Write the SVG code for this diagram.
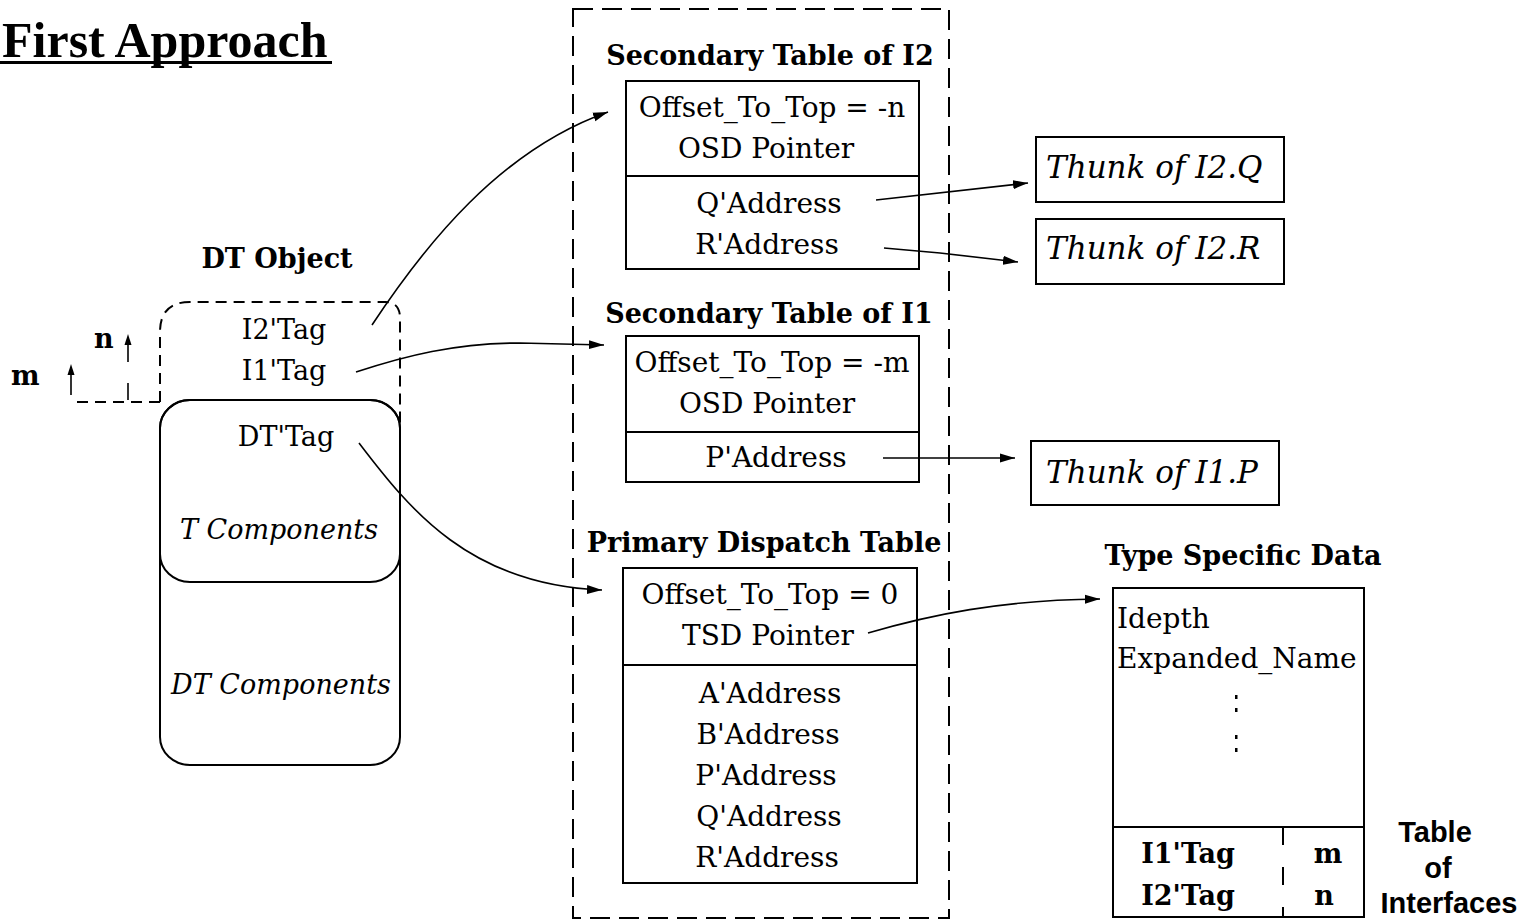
<svg xmlns="http://www.w3.org/2000/svg" width="1529" height="921" viewBox="0 0 1529 921">
  <defs>
    <marker id="arrow" markerUnits="userSpaceOnUse" markerWidth="16" markerHeight="10" refX="15" refY="5" orient="auto">
      <path d="M0,0.5 L15,5 L0,9.5 z" fill="#000"/>
    </marker>
    <style>
      .box { fill: none; stroke: #000; stroke-width: 2; }
      .dash { fill: none; stroke: #000; stroke-width: 2; stroke-dasharray: 11 7; }
      .bigdash { fill: none; stroke: #000; stroke-width: 2; stroke-dasharray: 20 9; }
      .link { fill: none; stroke: #000; stroke-width: 1.6; marker-end: url(#arrow); }
      .t { font-family: "DejaVu Serif", "Liberation Serif", serif; font-size: 28px; fill: #000; }
      .obj { font-size: 27px; }
      .it { font-family: "DejaVu Serif", "Liberation Serif", serif; font-style: italic; font-size: 27px; fill: #000; }
      .thunk { font-size: 31px; }
      .h { font-family: "DejaVu Serif", "Liberation Serif", serif; font-weight: bold; font-size: 27px; fill: #000; }
      .sans { font-family: "Liberation Sans", Arial, sans-serif; font-weight: bold; font-size: 29px; fill: #000; }
      .mid { text-anchor: middle; }
    </style>
  </defs>
  <rect width="1529" height="921" fill="#fff"/>

  <!-- heading -->
  <g id="title">
    <text x="2" y="57" font-family="'Liberation Serif', 'Times New Roman', serif" font-weight="bold" font-size="50">First Approach</text>
    <rect x="0" y="61" width="332" height="3" fill="#000"/>
  </g>

  <!-- object layout -->
  <g id="dt-object">
    <text class="h mid" x="277" y="268">DT Object</text>
    <path class="dash" d="M160,402 L160,332 Q160,302 190,302 L385,302 Q400,302 400,318 L400,430"/>
    <rect class="box" x="160" y="400" width="240" height="365" rx="30" ry="28"/>
    <rect class="box" x="160" y="400" width="240" height="182" rx="30" ry="28"/>
    <text class="t obj mid" x="284" y="339">I2'Tag</text>
    <text class="t obj mid" x="284" y="380">I1'Tag</text>
    <text class="t obj mid" x="286" y="446">DT'Tag</text>
    <text class="it mid" x="279" y="539">T Components</text>
    <text class="it mid" x="281" y="694">DT Components</text>
  </g>

  <!-- offset measures -->
  <g id="offsets">
    <text class="h" x="94" y="348">n</text>
    <text class="h" x="11" y="385">m</text>
    <path class="dash" d="M77,402 L160,402"/>
    <path d="M128,362 L128,342" stroke="#000" stroke-width="1.6"/>
    <path d="M128,383 L128,400" stroke="#000" stroke-width="1.6"/>
    <path d="M128,334 L124.5,345 L131.5,345 z" fill="#000"/>
    <path d="M71,395 L71,372" stroke="#000" stroke-width="1.6"/>
    <path d="M71,364 L67.5,375 L74.5,375 z" fill="#000"/>
  </g>

  <!-- dispatch tables container -->
  <g id="tables-frame">
    <rect class="bigdash" x="573" y="9" width="376" height="909"/>
  </g>

  <g id="secondary-i2">
    <text class="h mid" x="770" y="65">Secondary Table of I2</text>
    <rect class="box" x="626" y="81" width="293" height="188"/>
    <line class="box" x1="626" y1="176" x2="919" y2="176"/>
    <text class="t mid" x="772" y="117">Offset_To_Top = -n</text>
    <text class="t mid" x="766" y="158">OSD Pointer</text>
    <text class="t mid" x="769" y="213">Q'Address</text>
    <text class="t mid" x="767" y="254">R'Address</text>
  </g>

  <g id="secondary-i1">
    <text class="h mid" x="769" y="323">Secondary Table of I1</text>
    <rect class="box" x="626" y="336" width="293" height="146"/>
    <line class="box" x1="626" y1="432" x2="919" y2="432"/>
    <text class="t mid" x="772" y="372">Offset_To_Top = -m</text>
    <text class="t mid" x="767" y="413">OSD Pointer</text>
    <text class="t mid" x="776" y="467">P'Address</text>
  </g>

  <g id="primary">
    <text class="h mid" x="764" y="552">Primary Dispatch Table</text>
    <rect class="box" x="623" y="568" width="294" height="315"/>
    <line class="box" x1="623" y1="665" x2="917" y2="665"/>
    <text class="t mid" x="770" y="604">Offset_To_Top = 0</text>
    <text class="t mid" x="768" y="645">TSD Pointer</text>
    <text class="t mid" x="770" y="703">A'Address</text>
    <text class="t mid" x="768" y="744">B'Address</text>
    <text class="t mid" x="766" y="785">P'Address</text>
    <text class="t mid" x="769" y="826">Q'Address</text>
    <text class="t mid" x="767" y="867">R'Address</text>
  </g>

  <!-- thunks -->
  <g id="thunk-i2-q">
    <rect class="box" x="1036" y="137" width="248" height="65"/>
    <text class="it thunk" x="1046" y="178">Thunk of I2.Q</text>
  </g>
  <g id="thunk-i2-r">
    <rect class="box" x="1036" y="219" width="248" height="65"/>
    <text class="it thunk" x="1046" y="259">Thunk of I2.R</text>
  </g>
  <g id="thunk-i1-p">
    <rect class="box" x="1031" y="441" width="248" height="64"/>
    <text class="it thunk" x="1046" y="483">Thunk of I1.P</text>
  </g>

  <!-- type specific data -->
  <g id="tsd">
    <text class="h mid" x="1243" y="565">Type Specific Data</text>
    <rect class="box" x="1113" y="588" width="251" height="329"/>
    <line class="box" x1="1113" y1="827" x2="1364" y2="827"/>
    <text class="t" x="1117" y="628">Idepth</text>
    <text class="t" x="1117" y="668">Expanded_Name</text>
    <g fill="#000">
      <rect x="1235" y="695" width="2.5" height="4"/>
      <rect x="1235" y="708" width="2.5" height="4"/>
      <rect x="1235" y="735" width="2.5" height="4"/>
      <rect x="1235" y="748" width="2.5" height="4"/>
    </g>
    <line x1="1283" y1="827" x2="1283" y2="917" stroke="#000" stroke-width="2" stroke-dasharray="18 22"/>
    <text class="h mid" x="1188" y="863">I1'Tag</text>
    <text class="h mid" x="1188" y="905">I2'Tag</text>
    <text class="h mid" x="1328" y="863">m</text>
    <text class="h mid" x="1324" y="905">n</text>
  </g>

  <g id="interfaces-label">
    <text class="sans mid" x="1435" y="842">Table</text>
    <text class="sans mid" x="1438" y="878">of</text>
    <text class="sans mid" x="1449" y="913">Interfaces</text>
  </g>

  <!-- pointers -->
  <g id="connectors">
    <path class="link" d="M372,325 C425,245 500,150 608,112"/>
    <path class="link" d="M356,372 C405,356 455,343 520,343 L604,345"/>
    <path class="link" d="M359,443 C410,510 470,585 602,590"/>
    <path class="link" d="M876,200 L1028,183"/>
    <path class="link" d="M884,248 L940,253 L1018,262"/>
    <path class="link" d="M883,458 L1015,458"/>
    <path class="link" d="M868,633 C930,615 1000,600 1100,599"/>
  </g>
</svg>
